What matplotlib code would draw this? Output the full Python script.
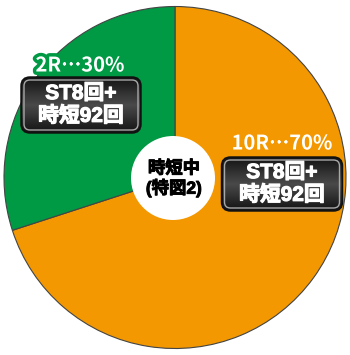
import matplotlib
matplotlib.use('Agg')
import matplotlib.pyplot as plt
import matplotlib.patheffects as pe
import numpy as np
from matplotlib.patches import FancyBboxPatch, Circle
from matplotlib.colors import LinearSegmentedColormap

# Latin glyphs from Liberation Sans, kanji fall back to Noto Sans CJK JP
plt.rcParams['font.family'] = ['Liberation Sans', 'Noto Sans CJK JP', 'DejaVu Sans']

# data
labels = ['10R…70%', '2R…30%']
shares = [70, 30]
colors = ['#F39800', '#009944']
box_text = ['ST8回+\n時短92回', 'ST8回+\n時短92回']
center_text = '時短中\n(特図2)'

fig = plt.figure(figsize=(3.5, 3.55), dpi=100)
ax = fig.add_axes([0, 0, 1, 1])

# pie, clockwise from the top
ax.pie(shares, colors=colors, startangle=90, counterclock=False,
       center=(175, 177.5), radius=171,
       wedgeprops=dict(edgecolor='#444444', linewidth=0.8))
ax.set_xlim(0, 350)
ax.set_ylim(0, 355)
ax.set_aspect('equal')
ax.axis('off')

# white centre disc
ax.add_patch(Circle((173, 177), 42, facecolor='white', edgecolor='none', zorder=3))
ax.text(174, 177, center_text, ha='center', va='center', fontsize=12.5,
        fontweight='bold', color='black', linespacing=1.15, zorder=4,
        path_effects=[pe.withStroke(linewidth=0.7, foreground='black')])

# dark box shading: darker at top and bottom, lighter in the middle
box_cmap = LinearSegmentedColormap.from_list('box', ['#151515', '#4a4a4a', '#151515'])
grad = np.linspace(0, 1, 64).reshape(-1, 1)

# label x, label y, box x, box y, box w, box h, outline colour
spots = [(282, 212, 282, 171, 119, 52, colors[0]),
         (80, 290, 81, 250, 118, 54, colors[1])]

for lab, bt, (lx, ly, bx, by, w, h, oc) in zip(labels, box_text, spots):
    ax.text(lx, ly, lab, ha='center', va='center', fontsize=14.5, fontweight='bold',
            color='white', zorder=5, family=['Noto Sans CJK JP', 'DejaVu Sans'],
            path_effects=[pe.withStroke(linewidth=1.4, foreground='white'),
                          pe.withStroke(linewidth=5, foreground=oc)])
    box = FancyBboxPatch((bx - w / 2, by - h / 2), w, h,
                         boxstyle='round,pad=0,rounding_size=8',
                         facecolor='#2a2a2a', edgecolor='#111111',
                         linewidth=2.5, zorder=5)
    ax.add_patch(box)
    img = ax.imshow(grad, cmap=box_cmap, aspect='auto', zorder=5.5,
                    extent=(bx - w / 2, bx + w / 2, by - h / 2, by + h / 2))
    img.set_clip_path(box)
    ax.add_patch(FancyBboxPatch((bx - w / 2 + 2, by - h / 2 + 2), w - 4, h - 4,
                                boxstyle='round,pad=0,rounding_size=6',
                                facecolor='none', edgecolor='#a8a8a8',
                                linewidth=1, zorder=6))
    ax.text(bx, by, bt, ha='center', va='center', fontsize=15, fontweight='bold',
            color='white', linespacing=1.15, zorder=7,
            path_effects=[pe.withStroke(linewidth=0.8, foreground='white')])

ax.set_xlim(0, 350)
ax.set_ylim(0, 355)

fig.savefig('out.png', dpi=100)
